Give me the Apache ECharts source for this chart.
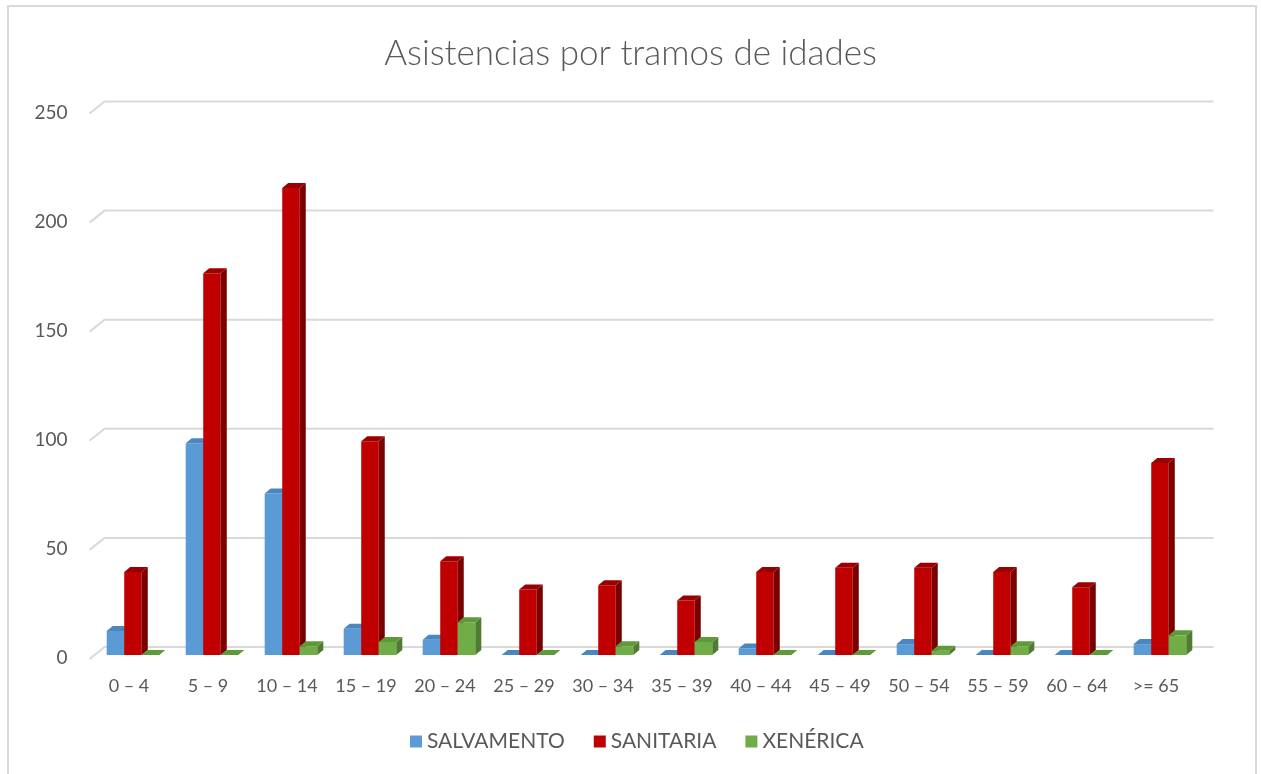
<!DOCTYPE html>
<html>
<head>
<meta charset="utf-8">
<title>Asistencias por tramos de idades</title>
<script src="https://cdn.jsdelivr.net/npm/echarts@6/dist/echarts.min.js"></script>
<style>
  html, body { margin: 0; padding: 0; background: #fff; }
  #chart { width: 1261px; height: 774px; }
</style>
</head>
<body>
<div id="chart"></div>
<script>
// data
var categories = ['0 – 4', '5 – 9', '10 – 14', '15 – 19', '20 – 24', '25 – 29', '30 – 34',
  '35 – 39', '40 – 44', '45 – 49', '50 – 54', '55 – 59', '60 – 64', '>= 65'];
var salvamento = [11, 97, 74, 12, 7, 0, 0, 0, 3, 0, 5, 0, 0, 5];
var sanitaria = [38, 175, 214, 98, 43, 30, 32, 25, 38, 40, 40, 38, 31, 88];
var xenerica = [0, 0, 4, 6, 15, 0, 4, 6, 0, 0, 2, 4, 0, 9];
var yTicks = [0, 50, 100, 150, 200, 250];

var FONT = 'Lato, "Open Sans", sans-serif';
var TXT = '#595959';

// fake 3d bar: front face, side face, top face
function bar3d(k, front, side, top) {
  return function (params, api) {
    var i = api.value(0);
    var base = api.coord([i, 0]);
    var tip = api.coord([i, api.value(1)]);
    var w = api.size([1, 0])[0] * 0.222;
    var x = base[0] + 4 + (k - 1.5) * w;
    var y0 = base[1] - 3;
    var y1 = tip[1] - 3;
    var dx = 6, dy = -5;
    return {
      type: 'group',
      children: [
        {type: 'rect', shape: {x: x, y: y1, width: w, height: y0 - y1}, style: {fill: front}},
        {type: 'polygon', shape: {points: [[x + w, y0], [x + w + dx, y0 + dy], [x + w + dx, y1 + dy], [x + w, y1]]}, style: {fill: side}},
        {type: 'polygon', shape: {points: [[x, y1], [x + dx, y1 + dy], [x + w + dx, y1 + dy], [x + w, y1]]}, style: {fill: top}}
      ]
    };
  };
}

function pairs(arr) {
  return arr.map(function (v, i) { return [i, v]; });
}

var chart = echarts.init(document.getElementById('chart'));

chart.setOption({
  animation: false,
  backgroundColor: '#fff',
  title: {
    text: 'Asistencias por tramos de idades',
    left: 'center',
    top: 31,
    textStyle: {fontFamily: FONT, fontSize: 35, fontWeight: 300, color: TXT}
  },
  legend: {
    top: 731,
    left: 410,
    padding: 0,
    icon: 'rect',
    itemWidth: 12,
    itemHeight: 12,
    itemGap: 29,
    textStyle: {fontFamily: FONT, fontSize: 21, color: TXT},
    data: ['SALVAMENTO', 'SANITARIA', 'XENÉRICA']
  },
  grid: {left: 89.5, right: 65.5, top: 112.5, bottom: 116},
  graphic: [{
    type: 'rect',
    shape: {x: 8, y: 6, width: 1248, height: 790},
    style: {fill: 'none', stroke: '#d9d9d9', lineWidth: 2},
    silent: true
  }],
  xAxis: {
    type: 'category',
    data: categories,
    axisLine: {show: false},
    axisTick: {show: false},
    axisLabel: {fontFamily: FONT, fontSize: 18, color: TXT, margin: 19, interval: 0}
  },
  yAxis: {
    type: 'value',
    min: 0,
    max: 250,
    interval: 50,
    splitLine: {show: false},
    axisLine: {show: false},
    axisTick: {show: false},
    axisLabel: {fontFamily: FONT, fontSize: 19, color: TXT, margin: 22}
  },
  series: [
    {
      name: 'grid',
      type: 'custom',
      silent: true,
      data: yTicks.map(function (v) { return [0, v]; }),
      renderItem: function (params, api) {
        var y = api.coord([0, api.value(1)])[1];
        var cs = params.coordSys;
        return {
          type: 'polyline',
          shape: {points: [[cs.x, y + 1], [cs.x + 15, y - 11], [cs.x + cs.width + 18, y - 11]]},
          style: {stroke: '#d9d9d9', lineWidth: 2, fill: 'none'}
        };
      }
    },
    {
      name: 'SALVAMENTO', type: 'custom', data: pairs(salvamento),
      itemStyle: {color: '#5b9bd5'},
      renderItem: bar3d(0, '#5b9bd5', '#41719c', '#4a86c0')
    },
    {
      name: 'SANITARIA', type: 'custom', data: pairs(sanitaria),
      itemStyle: {color: '#c00000'},
      renderItem: bar3d(1, '#c00000', '#7a0000', '#9a0000')
    },
    {
      name: 'XENÉRICA', type: 'custom', data: pairs(xenerica),
      itemStyle: {color: '#70ad47'},
      renderItem: bar3d(2, '#70ad47', '#4e7d31', '#5f9a3a')
    }
  ]
});

window.addEventListener('resize', function () {
  chart.resize();
});
</script>
</body>
</html>
